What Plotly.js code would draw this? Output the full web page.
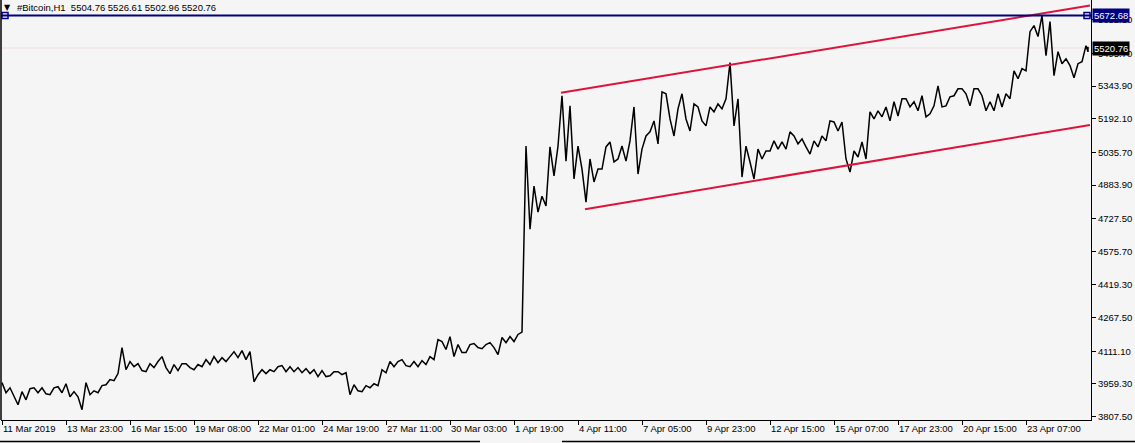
<!DOCTYPE html>
<html><head><meta charset="utf-8">
<script src="https://cdn.plot.ly/plotly-3.0.1.min.js"></script>
<style>html,body{margin:0;padding:0;background:#f5f5f5;overflow:hidden}#chart{width:1135px;height:443px}</style>
</head><body><div id="chart"></div>
<script>
// ---- data ----
const symbolName = "#Bitcoin,H1";
const lastBar = [5504.76, 5526.61, 5502.96, 5520.76]; // open, high, low, close
const barsPerGroup = 8;
const totalBars = 1087;
// high / low of each 8-bar group of H1 bars (11 Mar 2019 -> 24 Apr 2019)
const groupHigh = [3965,3941,3923,3937,3941,3941,3941,3946,3960,3923,
  3965,3927,3951,3979,4007,4128,4063,4053,4053,4063,
  4086,4049,4053,4053,4049,4072,4086,4081,4086,4109,
  4114,4109,4025,4025,4039,4044,4039,4035,4030,4025,
  4021,4016,4016,4011,3955,3951,3960,4025,4063,4063,
  4072,4063,4067,4086,4165,4156,4179,4142,4142,4147,
  4142,4151,4175,4179,4189,5065,4879,4832,5061,5065,
  5299,5252,5065,5005,4958,5061,5084,5065,5089,5247,
  5112,5182,5317,5308,5238,5308,5261,5247,5247,5261,
  5285,5453,5285,5065,5051,5042,5089,5084,5131,5112,
  5098,5089,5112,5182,5177,5177,5042,5084,5224,5229,
  5247,5271,5285,5285,5271,5299,5252,5345,5294,5331,
  5331,5331,5331,5271,5308,5308,5415,5425,5597,5625,
  5672,5644,5504,5471,5448,5532];
const groupLow = [3918,3899,3862,3885,3918,3913,3909,3918,3899,3899,
  3839,3909,3918,3955,3974,4025,4039,4021,4016,4035,
  4035,4007,4021,4035,4025,4039,4049,4058,4063,4081,
  4072,3969,4002,4007,4016,4016,4016,4011,4007,3993,
  3993,3997,4002,3909,3927,3923,3941,3951,4011,4039,
  4044,4039,4039,4049,4072,4119,4086,4105,4105,4128,
  4123,4128,4095,4151,4156,4200,4678,4758,4786,4926,
  4995,4912,4958,4804,4898,4958,4991,5005,4995,4935,
  5051,5131,5075,5191,5112,5191,5135,5182,5159,5224,
  5238,5159,4921,4991,4912,5005,5042,5051,5051,5075,
  5061,5028,5061,5089,5135,5005,4944,5014,5005,5191,
  5201,5182,5205,5247,5229,5201,5215,5247,5252,5299,
  5308,5252,5299,5229,5229,5247,5285,5378,5415,5574,
  5485,5392,5448,5439,5383,5457];
const barsPerTick = 64;
const xTickLabels = ["11 Mar 2019","13 Mar 23:00","16 Mar 15:00","19 Mar 08:00","22 Mar 01:00",
  "24 Mar 19:00","27 Mar 11:00","30 Mar 03:00","1 Apr 19:00","4 Apr 11:00","7 Apr 05:00",
  "9 Apr 23:00","12 Apr 15:00","15 Apr 07:00","17 Apr 23:00","20 Apr 15:00","23 Apr 07:00"];
const yTickValues = [3807.5,3959.3,4111.1,4267.5,4419.3,4575.7,4727.5,4883.9,5035.7,5192.1,5343.9,5495.7,5652.1];
const yRange = [3791.2, 5744.2];
// channel trend lines: [bar index], [price]
const upperTimes = [559, 1088];
const upperPrices = [5312.6, 5718.4];
const lowerTimes = [583, 1088];
const lowerPrices = [4771.6, 5163.3];
const hLevel = 5672.68;
const hLevelAnchors = [3, 1085];

// ---- build price path ----
const xs = [], ys = [];
for (let g = 0; g < groupHigh.length; g++) {
  const next = g + 1 < groupHigh.length ? (groupHigh[g+1] + groupLow[g+1]) / 2 : lastBar[3];
  const h = groupHigh[g], l = groupLow[g];
  const ord = Math.abs(h - next) < Math.abs(l - next) ? [l, h] : [h, l];
  xs.push(g * barsPerGroup, g * barsPerGroup + barsPerGroup / 2);
  ys.push(ord[0], ord[1]);
}
const lastX = totalBars - 1;
xs.push(lastX, lastX, lastX); ys.push(lastBar[2], lastBar[1], lastBar[3]);

const tickVals = xTickLabels.map((_, i) => i * barsPerTick);
const navy = '#000080', red = '#dc143c';
const fontFam = 'Liberation Sans, Arial, sans-serif';

const traces = [
  {type:'scatter', mode:'lines', x:xs, y:ys, line:{color:'#000', width:1.5}, hoverinfo:'skip'},
  {type:'scatter', mode:'markers', x:hLevelAnchors, y:hLevelAnchors.map(()=>hLevel), cliponaxis:false,
   marker:{symbol:'square', size:6, color:'#f5f5f5', line:{color:navy, width:1.5}}, hoverinfo:'skip'}
];

const px2paperX = p => (p - 1) / 1090;
const px2paperY = p => (420 - p) / 420;

const layout = {
  width:1135, height:443,
  paper_bgcolor:'#f5f5f5', plot_bgcolor:'#f5f5f5',
  margin:{l:1, r:44, t:0, b:23, pad:0},
  showlegend:false,
  font:{family:fontFam, size:9.5, color:'#000'},
  xaxis:{range:[-1, 1089], tickmode:'array', tickvals:tickVals, ticktext:xTickLabels, tickangle:0,
    ticks:'outside', ticklen:4, tickcolor:'#000', tickwidth:1, showline:true, linecolor:'#000', linewidth:1,
    showgrid:false, zeroline:false, ticklabelposition:'outside right', fixedrange:true, ticklabeloverflow:'allow',
    tickfont:{family:fontFam, size:9.5, color:'#000'}},
  yaxis:{side:'right', range:yRange, tickmode:'array', tickvals:yTickValues,
    ticktext:yTickValues.map(v => v.toFixed(2)), ticks:'outside', ticklen:4, tickcolor:'#000',
    showline:true, linecolor:'#000', linewidth:1, showgrid:false, zeroline:false, fixedrange:true,
    tickfont:{family:fontFam, size:9.5, color:'#000'}},
  shapes:[
    {type:'line', xref:'paper', yref:'y', x0:0, x1:1, y0:lastBar[3], y1:lastBar[3], line:{color:'#f0dede', width:1}, layer:'below'},
    {type:'line', xref:'x', yref:'y', x0:upperTimes[0], x1:upperTimes[1], y0:upperPrices[0], y1:upperPrices[1], line:{color:red, width:2}},
    {type:'line', xref:'x', yref:'y', x0:lowerTimes[0], x1:lowerTimes[1], y0:lowerPrices[0], y1:lowerPrices[1], line:{color:red, width:2}},
    {type:'line', xref:'paper', yref:'y', x0:0, x1:1, y0:hLevel, y1:hLevel, line:{color:navy, width:2}},
    {type:'line', xref:'paper', yref:'paper', x0:0, x1:0, y0:0, y1:1, line:{color:'#000', width:1.5}},
    {type:'line', xref:'paper', yref:'paper', x0:px2paperX(0), x1:px2paperX(480), y0:px2paperY(441.5), y1:px2paperY(441.5), line:{color:'#000', width:1.5}},
    {type:'line', xref:'paper', yref:'paper', x0:px2paperX(562), x1:px2paperX(1135), y0:px2paperY(441.5), y1:px2paperY(441.5), line:{color:'#000', width:1.5}}
  ],
  annotations:[
    {xref:'paper', yref:'paper', x:px2paperX(2), y:px2paperY(7), xanchor:'left', yanchor:'middle', showarrow:false,
     text:'\u25BC', font:{family:'DejaVu Sans', size:8, color:'#000'}},
    {xref:'paper', yref:'paper', x:px2paperX(15), y:px2paperY(7), xanchor:'left', yanchor:'middle', showarrow:false,
     text: symbolName + '\u00a0\u00a0' + lastBar.map(v => v.toFixed(2)).join('\u00a0'), font:{family:fontFam, size:9.5, color:'#000'}},
    {xref:'paper', yref:'y', x:1, y:hLevel, xanchor:'left', yanchor:'middle', xshift:1, showarrow:false,
     text:hLevel.toFixed(2), bgcolor:navy, borderpad:1, font:{family:fontFam, size:9.5, color:'#fff'}},
    {xref:'paper', yref:'y', x:1, y:lastBar[3], xanchor:'left', yanchor:'middle', xshift:1, showarrow:false,
     text:lastBar[3].toFixed(2), bgcolor:'#000', borderpad:1, font:{family:fontFam, size:9.5, color:'#fff'}}
  ]
};

Plotly.newPlot('chart', traces, layout, {staticPlot:true, displayModeBar:false});
</script>
</body></html>
